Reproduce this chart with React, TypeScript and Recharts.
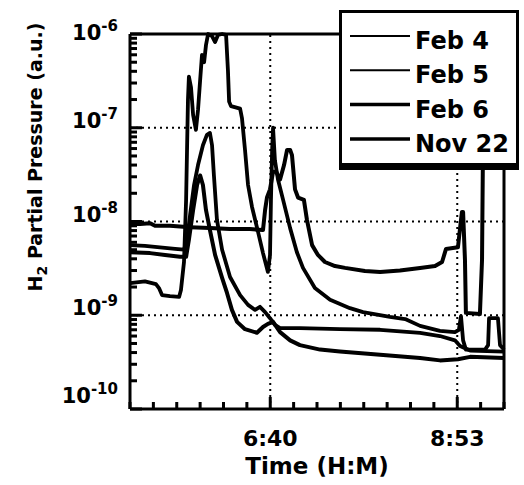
import { LineChart, Line, XAxis, YAxis, ReferenceLine, Legend } from "recharts";

const font = "'DejaVu Sans', sans-serif";

// time axis in seconds, a tick every 1000 s
const timeTicks = [
  18000, 19000, 20000, 21000, 22000, 23000, 24000, 25000, 26000, 27000, 28000,
  29000, 30000, 31000, 32000, 33000, 34000,
];
const timeLabels: { [t: number]: string } = { 24000: "6:40", 32000: "8:53" };
const timeGrid = [24000, 32000];

const decades = [1e-10, 1e-9, 1e-8, 1e-7, 1e-6];
const pressureGrid = [1e-9, 1e-8, 1e-7];
const minorSteps = [1, 2, 3, 4, 5, 6, 7, 8, 9];
const pressureTicks = decades
  .slice(0, -1)
  .flatMap((d) => minorSteps.map((m) => m * d))
  .concat([1e-6]);

// [seconds, pressure]
const feb4: [number, number][] = [
  [18000, 2.2e-9], [18640, 2.3e-9], [19110, 2.15e-9], [19240, 1.95e-9],
  [19370, 1.64e-9], [19710, 1.6e-9], [20100, 1.57e-9], [20180, 1.86e-9],
  [20310, 3.7e-9], [20400, 1.7e-8], [20480, 2.0e-7], [20520, 3.5e-7],
  [20610, 2.7e-7], [20700, 1.37e-7], [20820, 9.5e-8], [20910, 1.55e-7],
  [21000, 3.2e-7], [21080, 6.0e-7], [21170, 5.0e-7], [21250, 7.6e-7],
  [21340, 1.0e-6], [21510, 9.5e-7], [21640, 8.2e-7], [21770, 9.8e-7],
  [21940, 1.0e-6], [22110, 9.8e-7], [22190, 4.1e-7], [22240, 1.9e-7],
  [22320, 1.7e-7], [22710, 1.6e-7], [22790, 1.27e-7], [22920, 5.8e-8],
  [23050, 2.45e-8], [23220, 1.43e-8], [23480, 7.7e-9], [23690, 4.6e-9],
  [23900, 2.9e-9], [23990, 4.4e-9], [24030, 1.7e-8], [24080, 5.8e-8],
  [24120, 1.0e-7], [24200, 4.5e-8], [24330, 2.8e-8], [24550, 1.7e-8],
  [24850, 8.5e-9], [25140, 4.7e-9], [25400, 3.2e-9], [25910, 1.95e-9],
  [26560, 1.46e-9], [27410, 1.19e-9], [27970, 1.08e-9], [29120, 9.6e-10],
  [29770, 9.1e-10], [30410, 7.7e-10], [31260, 6.8e-10], [31900, 6.6e-10],
  [32070, 7.0e-10], [32160, 9.8e-10], [32250, 5.4e-10], [32370, 4.3e-10],
  [33190, 4.3e-10], [33320, 4.8e-10], [33360, 9.3e-10], [33740, 9.3e-10],
  [33830, 4.8e-10], [34000, 4.3e-10],
];

const feb5: [number, number][] = [
  [18000, 5.6e-9], [18640, 5.5e-9], [19280, 5.3e-9], [19930, 5.1e-9],
  [20310, 5.0e-9], [20440, 6.4e-9], [20570, 1.17e-8], [20740, 2.45e-8],
  [20910, 4.0e-8], [21120, 6.5e-8], [21290, 8.4e-8], [21420, 8.8e-8],
  [21510, 6.5e-8], [21590, 3.1e-8], [21720, 1.04e-8], [21940, 5.0e-9],
  [22280, 2.56e-9], [22710, 1.64e-9], [23050, 1.29e-9], [23350, 1.14e-9],
  [23560, 1.23e-9], [23780, 1.08e-9], [23990, 9.3e-10], [24200, 7.9e-10],
  [24420, 7.3e-10], [25270, 7.3e-10], [26980, 7.1e-10], [28700, 7.0e-10],
  [30410, 6.5e-10], [31260, 6.0e-10], [31900, 5.4e-10], [32120, 4.7e-10],
  [32550, 4.2e-10], [34000, 4.1e-10],
];

const feb6: [number, number][] = [
  [18000, 4.7e-9], [18860, 4.6e-9], [19500, 4.4e-9], [20140, 4.2e-9],
  [20400, 4.2e-9], [20520, 6.4e-9], [20700, 1.33e-8], [20870, 2.45e-8],
  [21000, 3.1e-8], [21120, 2.45e-8], [21250, 1.33e-8], [21420, 8.1e-9],
  [21640, 4.4e-9], [21940, 2.5e-9], [22150, 1.73e-9], [22360, 1.14e-9],
  [22580, 8.5e-10], [22920, 7.1e-10], [23430, 6.5e-10], [23690, 7.5e-10],
  [23900, 8.1e-10], [24120, 8.5e-10], [24420, 6.6e-10], [24850, 5.4e-10],
  [25270, 4.8e-10], [26130, 4.3e-10], [26980, 4.1e-10], [28700, 3.8e-10],
  [30410, 3.5e-10], [31260, 3.3e-10], [32030, 3.4e-10], [32550, 3.6e-10],
  [34000, 3.5e-10],
];

const nov22: [number, number][] = [
  [18000, 9.4e-9], [18430, 9.4e-9], [18860, 9.6e-9], [19070, 9.0e-9],
  [19710, 9.0e-9], [20570, 8.7e-9], [21420, 8.5e-9], [22280, 8.3e-9],
  [23130, 8.3e-9], [23690, 8.1e-9], [23780, 1.33e-8], [23860, 1.8e-8],
  [23990, 2.2e-8], [24120, 3.4e-8], [24250, 3.4e-8], [24420, 2.8e-8],
  [24590, 4.0e-8], [24720, 5.8e-8], [24850, 5.8e-8], [24930, 5.1e-8],
  [25060, 2.2e-8], [25190, 1.8e-8], [25440, 1.7e-8], [25570, 1.04e-8],
  [25790, 5.6e-9], [26040, 4.4e-9], [26340, 3.7e-9], [26770, 3.35e-9],
  [27200, 3.2e-9], [28050, 2.96e-9], [28700, 2.9e-9], [29550, 3.0e-9],
  [30410, 3.2e-9], [31050, 3.35e-9], [31350, 3.7e-9], [31520, 5.1e-9],
  [32030, 5.3e-9], [32120, 8.5e-9], [32200, 1.26e-8], [32250, 1.26e-8],
  [32330, 3.9e-9], [32370, 1.06e-9], [32970, 1.03e-9], [33060, 3.9e-9],
  [33100, 5.8e-8], [33140, 1.0e-6],
];

const series = [
  { name: "Feb 4", data: feb4, width: 3.8, legendWidth: 2 },
  { name: "Feb 5", data: feb5, width: 3.8, legendWidth: 2 },
  { name: "Feb 6", data: feb6, width: 4, legendWidth: 3.5 },
  { name: "Nov 22", data: nov22, width: 4, legendWidth: 3.5 },
];

const tMin = 18000;
const tMax = 34000;
const pMin = 1e-10;
const pMax = 1e-6;

const decadeOf = (v: number) => Math.round(Math.log10(v));
const isDecade = (v: number) => Math.abs(Math.log10(v) - decadeOf(v)) < 1e-6;
const tickLen = (major: boolean) => (major ? 12 : 7);
const tickW = 3;

const axisLineStyle = { stroke: "#000", strokeWidth: 3 };

// inward tick marks are drawn as thin filled rects
function BottomTick(props: any) {
  const x = Number(props.x);
  const y = Number(props.y);
  const label = timeLabels[props.payload.value];
  const len = tickLen(!!label);
  return (
    <g>
      <rect x={x - tickW / 2} y={y - len} width={tickW} height={len} fill="#000" />
      {label && (
        <text x={x} y={y + 37} textAnchor="middle" fontFamily={font} fontWeight="bold" fontSize={22} fill="#000">
          {label}
        </text>
      )}
    </g>
  );
}

function TopTick(props: any) {
  const x = Number(props.x);
  const y = Number(props.y);
  const len = tickLen(!!timeLabels[props.payload.value]);
  return <rect x={x - tickW / 2} y={y} width={tickW} height={len} fill="#000" />;
}

function LeftTick(props: any) {
  const x = Number(props.x);
  const y = Number(props.y);
  const v = props.payload.value;
  const major = isDecade(v);
  const k = decadeOf(v);
  const shift = k === -6 ? 6 : k === -10 ? -6 : 0;
  return (
    <g>
      <rect x={x} y={y - tickW / 2} width={tickLen(major)} height={tickW} fill="#000" />
      {major && (
        <text x={x - 12} y={y + shift} textAnchor="end" fontFamily={font} fontWeight="bold" fontSize={21} fill="#000">
          10
          <tspan fontSize={15} dy={-9}>
            {String(k)}
          </tspan>
        </text>
      )}
    </g>
  );
}

function RightTick(props: any) {
  const x = Number(props.x);
  const y = Number(props.y);
  const len = tickLen(isDecade(props.payload.value));
  return <rect x={x - len} y={y - tickW / 2} width={len} height={tickW} fill="#000" />;
}

function YTitle() {
  return (
    <text
      x={42}
      y={157}
      transform="rotate(-90, 42, 157)"
      textAnchor="middle"
      fontFamily={font}
      fontWeight="bold"
      fontSize={19}
      fill="#000"
    >
      H
      <tspan fontSize={14} dy={5}>
        2
      </tspan>
      <tspan dy={-5}> Partial Pressure (a.u.)</tspan>
    </text>
  );
}

function LegendBox() {
  return (
    <div
      style={{
        width: 180,
        height: 160,
        boxSizing: "border-box",
        border: "3px solid #000",
        borderBottomWidth: 7,
        background: "#fff",
      }}
    >
      <svg width={174} height={150} style={{ display: "block" }}>
        {series.map((s, i) => {
          const base = 36 + i * 34.3;
          return (
            <g key={s.name}>
              <line x1={8} x2={68} y1={base - 13} y2={base - 13} stroke="#000" strokeWidth={s.legendWidth} />
              <text x={73} y={base} fontFamily={font} fontWeight="bold" fontSize={24} fill="#000">
                {s.name}
              </text>
            </g>
          );
        })}
      </svg>
    </div>
  );
}

export default function App() {
  return (
    <div style={{ position: "absolute", left: 0, top: 0, background: "#fff" }}>
      <LineChart width={524} height={485} margin={{ top: 33, right: 19, bottom: 0, left: 0 }}>
        <XAxis
          xAxisId="t"
          dataKey="t"
          type="number"
          domain={[tMin, tMax]}
          ticks={timeTicks}
          interval={0}
          height={76}
          tickSize={0}
          tickMargin={0}
          tickLine={false}
          tick={<BottomTick />}
          axisLine={axisLineStyle}
          label={{
            value: "Time (H:M)",
            position: "insideBottom",
            offset: 11,
            fontFamily: font,
            fontWeight: "bold",
            fontSize: 23,
            fill: "#000",
          }}
        />
        <XAxis
          xAxisId="top"
          orientation="top"
          type="number"
          domain={[tMin, tMax]}
          ticks={timeTicks}
          interval={0}
          height={1}
          tickSize={0}
          tickMargin={0}
          tickLine={false}
          tick={<TopTick />}
          axisLine={axisLineStyle}
        />
        <YAxis
          yAxisId="p"
          type="number"
          scale="log"
          domain={[pMin, pMax]}
          ticks={pressureTicks}
          interval={0}
          width={130}
          tickSize={0}
          tickMargin={0}
          tickLine={false}
          tick={<LeftTick />}
          axisLine={axisLineStyle}
          label={<YTitle />}
        />
        <YAxis
          yAxisId="right"
          orientation="right"
          type="number"
          scale="log"
          domain={[pMin, pMax]}
          ticks={pressureTicks}
          interval={0}
          width={1}
          tickSize={0}
          tickMargin={0}
          tickLine={false}
          tick={<RightTick />}
          axisLine={axisLineStyle}
        />
        {timeGrid.map((t) => (
          <ReferenceLine key={"gx" + t} x={t} xAxisId="t" yAxisId="p" stroke="#000" strokeWidth={2} strokeDasharray="2 4" />
        ))}
        {pressureGrid.map((p) => (
          <ReferenceLine key={"gy" + p} y={p} xAxisId="t" yAxisId="p" stroke="#000" strokeWidth={2} strokeDasharray="2 4" />
        ))}
        {series.map((s) => (
          <Line
            key={s.name}
            name={s.name}
            xAxisId="t"
            yAxisId="p"
            data={s.data.map(([t, p]) => ({ t, p }))}
            dataKey="p"
            type="linear"
            stroke="#000"
            strokeWidth={s.width}
            strokeLinejoin="round"
            dot={false}
            isAnimationActive={false}
          />
        ))}
        <Legend
          layout="vertical"
          align="center"
          verticalAlign="middle"
          width={180}
          height={160}
          wrapperStyle={{ left: 339, top: 10 }}
          content={() => <LegendBox />}
        />
      </LineChart>
    </div>
  );
}
